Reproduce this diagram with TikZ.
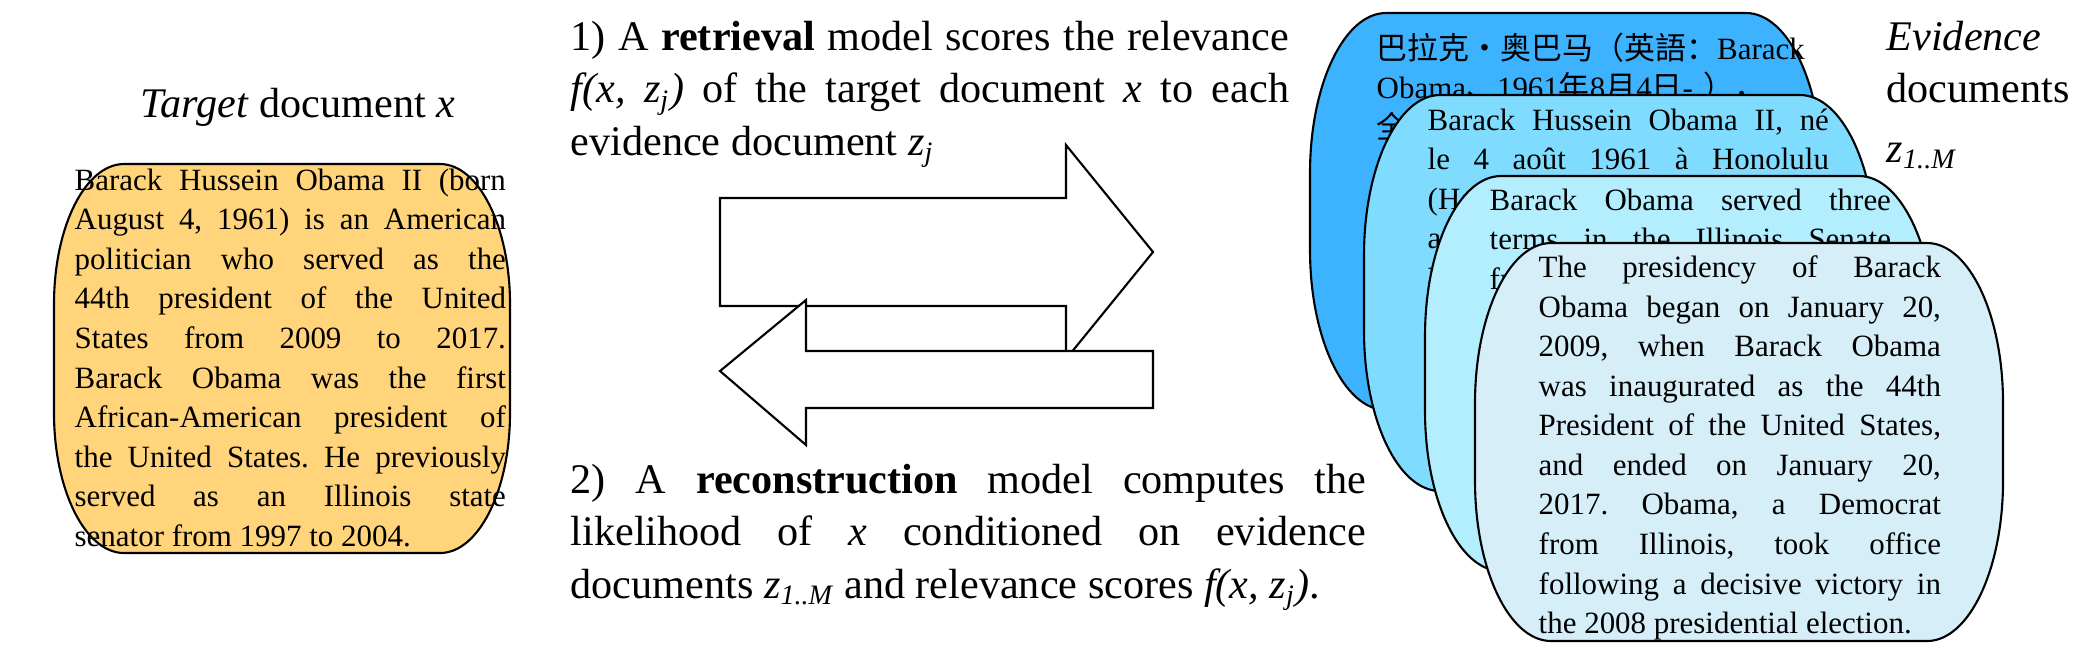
\documentclass[tikz,border=0pt]{standalone}
\usepackage{fontspec}
\setmainfont{Liberation Serif}
\newfontfamily\cjk{Noto Sans CJK SC}
\frenchspacing
\definecolor{docorange}{HTML}{FFD47A}
\definecolor{docA}{HTML}{3DB2FF}
\definecolor{docB}{HTML}{80DCFF}
\definecolor{docC}{HTML}{B3EEFF}
\definecolor{docD}{HTML}{D6EEF8}
\newcommand\docshape[7]{% style, x1,y1,x2,y2,rx,ry
\path[#1] ({#2+#6},#3) -- ({#4-#6},#3)
 .. controls ({#4-0.448*#6},#3) and (#4,{#3+0.448*#7}) .. (#4,{#3+#7})
 -- (#4,{#5-#7})
 .. controls (#4,{#5-0.448*#7}) and ({#4-0.448*#6},#5) .. ({#4-#6},#5)
 -- ({#2+#6},#5)
 .. controls ({#2+0.448*#6},#5) and (#2,{#5-0.448*#7}) .. (#2,{#5-#7})
 -- (#2,{#3+#7})
 .. controls (#2,{#3+0.448*#7}) and ({#2+0.448*#6},#3) .. cycle;}
\tikzset{
  doc/.style={draw=black,line width=0.6pt},
  doctext/.style={anchor=north west,inner sep=0pt,align=justify,font=\fontsize{8.8}{11.25}\selectfont},
  big/.style={inner sep=0pt,font=\fontsize{12}{15}\selectfont},
  blockarrow/.style={draw=black,fill=white,line width=0.6pt}
}
\begin{document}
\begin{tikzpicture}[x=0.01cm,y=-0.01cm]
\useasboundingbox (0,0) rectangle (2092,644);
% target document
\node[big] (tlabel) at (298,107) {\textit{Target} document \textit{x}};
\docshape{doc,fill=docorange}{54}{164}{510}{553}{70}{140}
\node[doctext,text width=4.31cm] (ttext) at (74,168) {Barack Hussein Obama II (born\linebreak August 4, 1961) is an American\linebreak politician who served as the\linebreak 44th president of the United\linebreak States from 2009 to 2017.\linebreak Barack Obama was the first\linebreak African-American president of\linebreak the United States. He previously\linebreak served as an Illinois state\linebreak senator from 1997 to 2004.};
% arrows
\draw[blockarrow] (720,198) -- (1066,198) -- (1066,145) -- (1153,252) -- (1066,359) -- (1066,306) -- (720,306) -- cycle;
\draw[blockarrow] (1153,351) -- (806,351) -- (806,300) -- (720,371) -- (806,445) -- (806,408) -- (1153,408) -- cycle;
% step texts
\node[big,anchor=north west,text width=7.18cm,align=justify] (step1) at (570,20) {1) A \textbf{retrieval} model scores the relevance\linebreak \textit{f(x, z\textsubscript{j})} of the target document \textit{x} to each\linebreak evidence document \textit{z\textsubscript{j}}};
\node[big,anchor=north west,text width=7.95cm,align=justify] (step2) at (570,463) {2) A \textbf{reconstruction} model computes the\linebreak likelihood of \textit{x} conditioned on evidence\linebreak documents \textit{z\textsubscript{1..M}} and relevance scores \textit{f(x, z\textsubscript{j})}.};
% evidence label
\node[big,anchor=north west,align=left] (elabel) at (1886,20) {\textit{Evidence}\\documents\\[2pt]\textit{z\textsubscript{1..M}}};
% evidence documents
\docshape{doc,fill=docA}{1310}{13}{1822}{410}{76}{160}
\node[doctext,text width=3.98cm,align=left] (e1) at (1376,32) {{\cjk 巴拉克·奥巴马（英語：}Barack\\Obama{\cjk 、}1961{\cjk 年}8{\cjk 月}4{\cjk 日}- {\cjk ），}\\{\cjk 全名巴拉克·侯赛因·}\\{\cjk 上美国民主党籍}\\{\cjk 政治家，}};
\docshape{doc,fill=docB}{1364}{95}{1876}{491}{76}{160}
\node[doctext,text width=4.01cm] (e2) at (1427,108) {Barack Hussein Obama II, né\linebreak le 4 août 1961 à Honolulu\linebreak (Hawaï), est un homme d'État américain, président des États-Unis de 2009 à 2017.};
\docshape{doc,fill=docC}{1425}{176}{1935}{571}{76}{160}
\node[doctext,text width=4.01cm] (e3) at (1489,188) {Barack Obama served three\linebreak terms in the Illinois Senate\linebreak from 1997 to 2004.};
\docshape{doc,fill=docD}{1475}{243}{2003}{641}{76}{160}
\node[doctext,text width=4.02cm] (e4) at (1538,255) {The presidency of Barack\linebreak Obama began on January 20,\linebreak 2009, when Barack Obama\linebreak was inaugurated as the 44th\linebreak President of the United States,\linebreak and ended on January 20,\linebreak 2017. Obama, a Democrat\linebreak from Illinois, took office\linebreak following a decisive victory in\linebreak the 2008 presidential election.}; 
\end{tikzpicture}
\end{document}
